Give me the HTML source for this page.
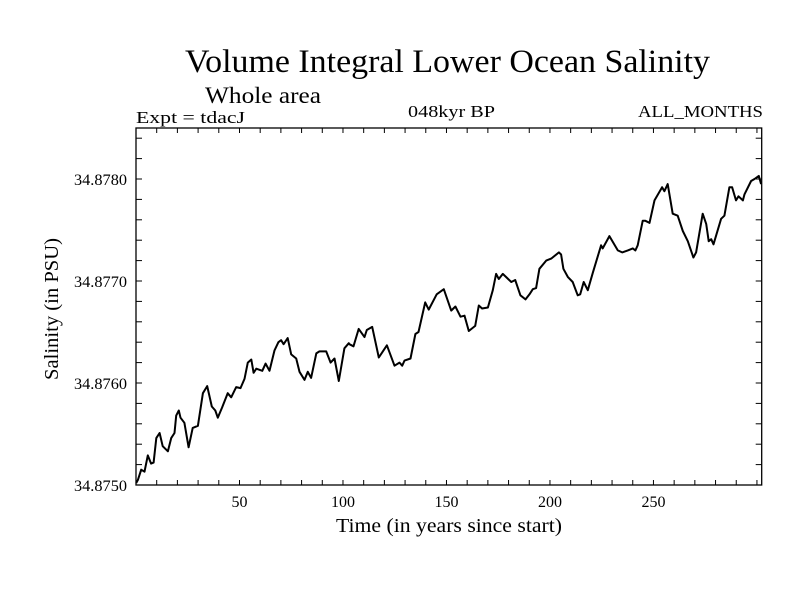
<!DOCTYPE html>
<html><head><meta charset="utf-8"><style>
body{margin:0;background:#fff}
svg{display:block;font-family:"Liberation Serif",serif}
</style></head><body>
<svg id="chart" width="800" height="600" xmlns="http://www.w3.org/2000/svg">
<rect width="800" height="600" fill="#fff"/>
<text x="185" y="72" font-size="33" textLength="525" lengthAdjust="spacingAndGlyphs">Volume Integral Lower Ocean Salinity</text>
<text x="205" y="103" font-size="23" textLength="116" lengthAdjust="spacingAndGlyphs">Whole area</text>
<text x="136" y="123" font-size="17" textLength="109" lengthAdjust="spacingAndGlyphs">Expt = tdacJ</text>
<text x="408" y="117" font-size="17" textLength="87" lengthAdjust="spacingAndGlyphs">048kyr BP</text>
<text x="638" y="117" font-size="17" textLength="125" lengthAdjust="spacingAndGlyphs">ALL_MONTHS</text>
<text x="336" y="532" font-size="20" textLength="226" lengthAdjust="spacingAndGlyphs">Time (in years since start)</text>
<text transform="translate(58,380) rotate(-90)" font-size="20" textLength="142" lengthAdjust="spacingAndGlyphs">Salinity (in PSU)</text>
<g id="axes"></g>
<g id="plot"></g>
<rect x="136" y="128" width="625.7" height="357" fill="none" stroke="#000" stroke-width="1.3"/>
</svg>
<script>
const years=[0.1,0.9,2.5,4.1,5.7,7.3,8.5,9.8,11.4,12.9,15.4,17.0,18.6,19.4,20.7,21.5,23.4,25.4,27.4,29.9,32.3,34.4,36.6,38.3,39.5,41.6,44.3,46.0,48.4,50.5,52.4,54.0,55.7,56.8,58.1,61.0,62.6,64.5,66.9,68.8,70.1,71.3,73.3,75.0,77.4,79.0,81.4,83.0,84.6,87.1,88.6,91.9,94.0,95.9,98.0,100.7,102.8,103.1,105.1,107.6,110.4,111.5,114.1,117.3,121.2,124.9,127.3,128.6,129.7,132.6,135.0,136.5,139.7,141.4,145.3,148.7,152.3,154.3,156.8,158.7,160.8,163.9,165.6,167.2,170.0,172.4,174.0,175.3,177.2,181.3,183.2,185.7,188.2,190.1,191.7,193.3,194.9,198.2,200.6,204.3,205.4,206.5,208.6,211.0,213.4,214.6,216.3,218.3,220.7,224.7,225.5,228.7,232.8,234.9,237.6,240.0,241.3,242.4,244.8,246.1,248.1,250.5,254.2,255.3,256.9,259.3,261.7,264.2,266.6,269.3,270.6,273.8,275.5,276.7,277.9,279.0,282.7,284.3,286.7,288.0,289.9,291.1,293.2,294.0,297.2,298.8,300.9,302.0];
const salinity=[34.87502,34.87505,34.87515,34.87513,34.87529,34.87521,34.87522,34.87546,34.87551,34.87538,34.87533,34.87546,34.87551,34.87568,34.87573,34.87566,34.87561,34.87537,34.87556,34.87558,34.87590,34.87597,34.87577,34.87573,34.87566,34.87576,34.87590,34.87586,34.87596,34.87595,34.87604,34.87620,34.87623,34.87610,34.87614,34.87612,34.87619,34.87612,34.87632,34.87640,34.87642,34.87638,34.87644,34.87628,34.87624,34.87611,34.87603,34.87611,34.87605,34.87629,34.87631,34.87631,34.87620,34.87624,34.87602,34.87634,34.87639,34.87638,34.87636,34.87653,34.87645,34.87652,34.87655,34.87625,34.87637,34.87617,34.87620,34.87617,34.87622,34.87624,34.87648,34.87650,34.87679,34.87672,34.87687,34.87692,34.87671,34.87675,34.87665,34.87666,34.87651,34.87656,34.87676,34.87673,34.87674,34.87691,34.87707,34.87702,34.87707,34.87699,34.87701,34.87686,34.87682,34.87687,34.87692,34.87693,34.87712,34.87720,34.87722,34.87728,34.87726,34.87712,34.87704,34.87699,34.87686,34.87687,34.87699,34.87691,34.87708,34.87735,34.87732,34.87744,34.87730,34.87728,34.87730,34.87732,34.87730,34.87735,34.87759,34.87759,34.87757,34.87779,34.87792,34.87788,34.87795,34.87766,34.87764,34.87749,34.87739,34.87723,34.87728,34.87766,34.87756,34.87739,34.87741,34.87736,34.87761,34.87764,34.87792,34.87792,34.87779,34.87783,34.87779,34.87785,34.87798,34.87800,34.87803,34.87795];
const xTickLabels=[50,100,150,200,250];
const yTickLabels=["34.8750","34.8760","34.8770","34.8780"];
const X0=136,X1=761.7,Y0=485,Y1=128,XMIN=0,XMAX=302.3,YMIN=34.875,YMAX=34.8785;
function sx(v){return X0+(v-XMIN)/(XMAX-XMIN)*(X1-X0);}
function sy(v){return Y0-(v-YMIN)/(YMAX-YMIN)*(Y0-Y1);}
const NS="http://www.w3.org/2000/svg";
const axes=document.getElementById('axes'),plot=document.getElementById('plot');
function mk(tag,attrs,parent){const e=document.createElementNS(NS,tag);for(const k in attrs)e.setAttribute(k,attrs[k]);parent.appendChild(e);return e;}
for(let t=10;t<XMAX;t+=10){const x=sx(t);
 const a=mk('line',{x1:x,x2:x,y1:Y0,y2:Y0-5,stroke:'#000','stroke-width':1},axes);
 
 
 const b=mk('line',{x1:x,x2:x,y1:Y1,y2:Y1+5,stroke:'#000','stroke-width':1},axes);
 
 
}
xTickLabels.forEach(v=>{const t=mk('text',{x:sx(v),y:507,'font-size':16,'text-anchor':'middle'},axes);t.textContent=v;
 
 });
for(let i=1;i<18;i++){const v=YMIN+i*0.0002;const y=sy(v);
 const a=mk('line',{x1:X0,x2:X0+6,y1:y,y2:y,stroke:'#000','stroke-width':1},axes);
 
 
 const b=mk('line',{x1:X1,x2:X1-6,y1:y,y2:y,stroke:'#000','stroke-width':1},axes);
 
 
}
yTickLabels.forEach(v=>{const t=mk('text',{x:74,y:sy(parseFloat(v))+6,'font-size':16,textLength:53,lengthAdjust:'spacingAndGlyphs'},axes);t.textContent=v;
 
 });
const d=years.map((yr,i)=>(i?'L':'M')+sx(yr).toFixed(1)+','+sy(salinity[i]).toFixed(1)).join('');
const line=mk('path',{d:d,fill:'none',stroke:'#000','stroke-width':2,'stroke-linejoin':'round'},plot);


</script>
</body></html>
